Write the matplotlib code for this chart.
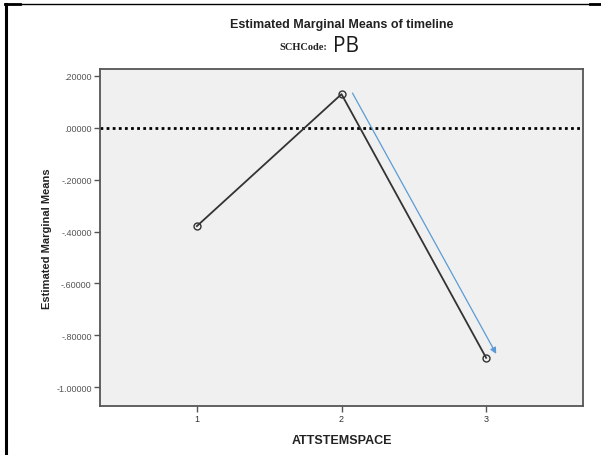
import matplotlib
matplotlib.use('Agg')
import matplotlib.pyplot as plt
from matplotlib.lines import Line2D

plt.rcParams['font.family'] = ['Liberation Sans', 'DejaVu Sans']

# estimated marginal means per level
levels = [1, 2, 3]
means = [-0.379, 0.130, -0.887]
yticks = [0.2, 0.0, -0.2, -0.4, -0.6, -0.8, -1.0]
ytick_labels = ['.20000', '.00000', '-.20000', '-.40000', '-.60000', '-.80000', '-1.00000']
# trend arrow drawn over the drop from level 2 to 3
arrow_start = (2.076, 0.134)
arrow_end = (3.07, -0.872)

W, H = 601, 456
fig = plt.figure(figsize=(W / 100, H / 100), dpi=100)
ax = fig.add_axes([100 / W, 1 - 407 / H, 483 / W, 337 / H])
ax.set_facecolor('#f0f0f0')
for sp in ax.spines.values():
    sp.set_color('#555555')
    sp.set_linewidth(1.3)

ax.axhline(0, color='black', lw=2, linestyle=(0, (1, 1.2)), zorder=2)
ax.plot(levels, means, color='#333333', lw=1.3, marker='o', ms=5,
        mfc='none', mec='#333333', mew=1.0, zorder=3)
ax.annotate('', xy=arrow_end, xytext=arrow_start,
            arrowprops=dict(arrowstyle='-|>', color='#5b9bd5', lw=0.9,
                            mutation_scale=9, shrinkA=0, shrinkB=0), zorder=4)

ax.set_xlim(0.33, 3.67)
ax.set_ylim(-1.073, 0.227)
ax.set_xticks(levels)
ax.set_xticklabels([str(v) for v in levels], fontsize=6.5, color='#333333')
ax.set_yticks(yticks)
ax.set_yticklabels(ytick_labels, fontsize=6.5, color='#555555')
ax.tick_params(axis='both', length=4, width=1, color='#555555', pad=2)
ax.set_xlabel('ATTSTEMSPACE', fontsize=9, fontweight='bold', color='#222222', labelpad=8)
ax.set_ylabel('Estimated Marginal Means', fontsize=8, fontweight='bold', color='#222222', labelpad=3)

fig.text(342 / W, 1 - 25 / H, 'Estimated Marginal Means of timeline', ha='center', va='center',
         fontsize=9, fontweight='bold', color='#222222')
fig.text(327 / W, 1 - 48 / H, 'SCHCode:', ha='right', va='center', fontsize=7.5,
         fontweight='bold', family=['Liberation Serif', 'DejaVu Serif'], color='#222222')
fig.text(333 / W, 1 - 46 / H, 'PB', ha='left', va='center', fontsize=15,
         family=['Open Sans', 'DejaVu Sans'], color='#1a1a1a')

# page border around the chart
fig.add_artist(Line2D([5.5 / W, 5.5 / W], [1 - 5 / H, 0], transform=fig.transFigure,
                      color='black', lw=2.2))
fig.add_artist(Line2D([5 / W, 1], [1 - 5 / H, 1 - 5 / H], transform=fig.transFigure,
                      color='black', lw=1))
fig.add_artist(Line2D([5 / W, 20 / W], [1 - 5 / H, 1 - 5 / H], transform=fig.transFigure,
                      color='black', lw=2))
fig.add_artist(Line2D([590 / W, 1], [1 - 5 / H, 1 - 5 / H], transform=fig.transFigure,
                      color='black', lw=2))

fig.savefig('out.png', dpi=100)
